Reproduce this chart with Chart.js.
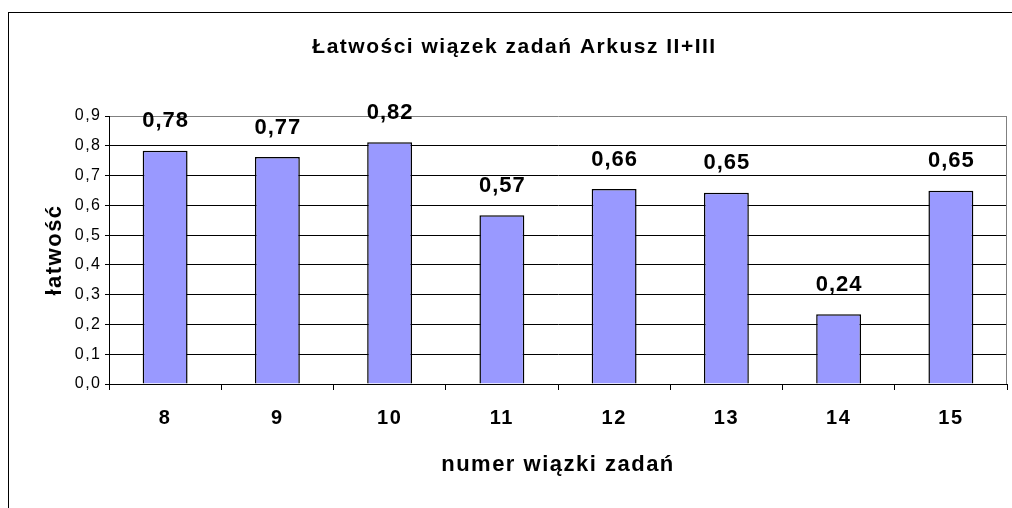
<!DOCTYPE html>
<html lang="pl">
<head>
<meta charset="utf-8">
<title>Łatwości wiązek zadań Arkusz II+III</title>
<script src="https://cdn.jsdelivr.net/npm/chart.js@4.4.1/dist/chart.umd.min.js"></script>
<style>
    html, body { margin: 0; padding: 0; background: #fff; }
    canvas { display: block; }
</style>
</head>
<body>
<canvas id="chart" width="1012" height="508"></canvas>
<script>
// categories (numer wiązki zadań)
const categories = ['8', '9', '10', '11', '12', '13', '14', '15'];
// bar heights
const easiness = [0.783, 0.762, 0.812, 0.567, 0.655, 0.642, 0.234, 0.649];
// labels printed above the bars
const valueLabels = ['0,78', '0,77', '0,82', '0,57', '0,66', '0,65', '0,24', '0,65'];
// y axis tick labels
const yTickLabels = ['0,0', '0,1', '0,2', '0,3', '0,4', '0,5', '0,6', '0,7', '0,8', '0,9'];

const FONT = "Arial, 'Liberation Sans', sans-serif";

// old Excel charts render text with slightly wide letter spacing
const spacingPlugin = {
    id: 'spacing',
    beforeUpdate(chart) { chart.ctx.letterSpacing = '1.5px'; },
    beforeDraw(chart) { chart.ctx.letterSpacing = '1.5px'; }
};

// outer frame of the chart object and right border of the plot area
const framePlugin = {
    id: 'frame',
    beforeDraw(chart) {
        const ctx = chart.ctx;
        ctx.save();
        ctx.strokeStyle = '#000';
        ctx.lineWidth = 1;
        ctx.strokeRect(8.5, 12.5, 2000, 2000);
        ctx.restore();
    },
    beforeDatasetsDraw(chart) {
        const { ctx, chartArea } = chart;
        ctx.save();
        ctx.strokeStyle = '#808080';
        ctx.lineWidth = 1;
        ctx.beginPath();
        ctx.moveTo(Math.round(chartArea.right) - 0.5, chartArea.top);
        ctx.lineTo(Math.round(chartArea.right) - 0.5, chartArea.bottom);
        ctx.stroke();
        ctx.restore();
    }
};

const valueLabelPlugin = {
    id: 'valueLabels',
    afterDatasetsDraw(chart) {
        const ctx = chart.ctx;
        const meta = chart.getDatasetMeta(0);
        ctx.save();
        ctx.letterSpacing = '1px';
        ctx.font = 'bold 22px ' + FONT;
        ctx.fillStyle = '#000';
        ctx.textAlign = 'center';
        ctx.textBaseline = 'middle';
        meta.data.forEach((bar, i) => {
            ctx.fillText(valueLabels[i], bar.x + 0.5, bar.y - 29.5);
        });
        ctx.restore();
    }
};

new Chart(document.getElementById('chart').getContext('2d'), {
    type: 'bar',
    data: {
        labels: categories,
        datasets: [{
            data: easiness,
            backgroundColor: '#9999ff',
            borderColor: '#000',
            borderWidth: 1.5,
            barPercentage: 0.4,
            categoryPercentage: 1
        }]
    },
    options: {
        responsive: false,
        animation: false,
        layout: {
            padding: { left: 22, right: 5, top: 0, bottom: 0 }
        },
        plugins: {
            legend: { display: false },
            tooltip: { enabled: false },
            title: {
                display: true,
                text: 'Łatwości wiązek zadań Arkusz II+III',
                color: '#000',
                font: { family: FONT, size: 21, weight: 'bold' },
                padding: { top: 34.4, bottom: 56.4 }
            }
        },
        scales: {
            x: {
                afterFit(scale) { scale.height = 124; },
                grid: {
                    drawOnChartArea: false,
                    drawTicks: true,
                    tickLength: 6,
                    color: '#000'
                },
                border: { color: '#000', width: 1 },
                ticks: {
                    color: '#000',
                    padding: 16,
                    font: { family: FONT, size: 20, weight: 'bold' }
                },
                title: {
                    display: true,
                    text: 'numer wiązki zadań',
                    color: '#000',
                    font: { family: FONT, size: 22, weight: 'bold' },
                    padding: { top: 0, bottom: 29.8 }
                }
            },
            y: {
                min: 0,
                max: 0.9,
                afterFit(scale) { scale.width = 87; },
                grid: {
                    color: ctx => Math.round(ctx.tick.value * 10) === 9 ? '#808080' : '#000',
                    tickColor: '#000',
                    tickLength: 4,
                    lineWidth: 1
                },
                border: { color: '#000', width: 1 },
                ticks: {
                    stepSize: 0.1,
                    color: '#000',
                    padding: 3.5,
                    font: { family: FONT, size: 16 },
                    callback: value => yTickLabels[Math.round(value * 10)]
                },
                title: {
                    display: true,
                    text: 'łatwość',
                    color: '#000',
                    font: { family: FONT, size: 22, weight: 'bold' },
                    padding: { top: 19.8, bottom: 0 }
                }
            }
        }
    },
    plugins: [spacingPlugin, framePlugin, valueLabelPlugin]
});
</script>
</body>
</html>
